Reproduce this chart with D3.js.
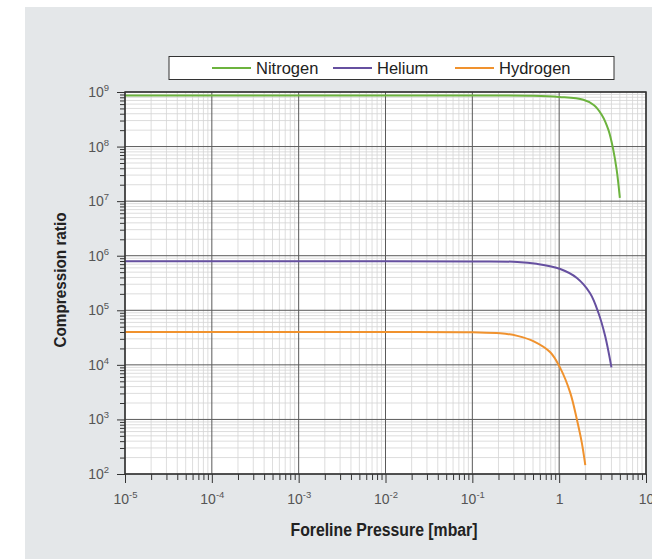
<!DOCTYPE html>
<html>
<head>
<meta charset="utf-8">
<script src="https://cdn.jsdelivr.net/npm/d3@7"></script>
<style>
  body { margin: 0; background: #fff; }
  svg { display: block; font-family: "Liberation Sans", Arial, sans-serif; }
</style>
</head>
<body>
<div id="chart"></div>
<script>
// series names and colours
const seriesNames = ["Nitrogen", "Helium", "Hydrogen"];
const seriesColors = ["#6cb33e", "#6650a0", "#f0922e"];

// foreline pressure [mbar] and compression ratio
const nitrogenP = [1e-5, 0.01, 0.1, 0.5, 1, 1.9, 2.5, 3.1, 3.7, 4.2, 4.6, 5.0];
const nitrogenK = [8.6e8, 8.6e8, 8.6e8, 8.5e8, 8.1e8, 7.2e8, 5.8e8, 3.8e8, 2.0e8, 8.7e7, 3.7e7, 1.15e7];

const heliumP = [1e-5, 0.01, 0.1, 0.33, 0.55, 1.03, 1.6, 2.27, 2.83, 3.38, 4.0];
const heliumK = [7.9e5, 7.9e5, 7.85e5, 7.7e5, 7.1e5, 5.7e5, 3.9e5, 2.05e5, 9e4, 3.4e4, 9e3];

const hydrogenP = [1e-5, 0.01, 0.1, 0.21, 0.33, 0.51, 0.79, 1.03, 1.34, 1.6, 1.82, 2.0];
const hydrogenK = [4.0e4, 4.0e4, 3.95e4, 3.8e4, 3.4e4, 2.7e4, 1.7e4, 8.7e3, 3.1e3, 1.0e3, 380, 145];

// tick labels (mantissa, exponent)
const xTicks = [[1e-5, "10", "-5"], [1e-4, "10", "-4"], [1e-3, "10", "-3"], [1e-2, "10", "-2"], [1e-1, "10", "-1"], [1, "1", ""], [10, "10", ""]];
const yTicks = [[1e2, "10", "2"], [1e3, "10", "3"], [1e4, "10", "4"], [1e5, "10", "5"], [1e6, "10", "6"], [1e7, "10", "7"], [1e8, "10", "8"], [1e9, "10", "9"]];

const width = 652, height = 559;
const margin = { top: 92, right: 6, bottom: 85, left: 125 };

const svg = d3.select("#chart").append("svg")
  .attr("width", width)
  .attr("height", height);

// grey panel
svg.append("rect")
  .attr("x", 25).attr("y", 7)
  .attr("width", width - 25).attr("height", height - 7)
  .attr("fill", "#e4e7e9");

const x = d3.scaleLog()
  .domain([1e-5, 10])
  .range([margin.left, width - margin.right]);

const y = d3.scaleLog()
  .domain([1e2, 1e9])
  .range([height - margin.bottom, margin.top]);

svg.append("rect")
  .attr("x", x.range()[0]).attr("y", y.range()[1])
  .attr("width", x.range()[1] - x.range()[0])
  .attr("height", y.range()[0] - y.range()[1])
  .attr("fill", "#fff");

// minor / major values
function minors(lo, hi) {
  let out = [];
  for (let e = lo; e < hi; e++)
    for (let m = 2; m <= 9; m++) out.push(m * Math.pow(10, e));
  return out;
}
const xMinor = minors(-5, 1), yMinor = minors(2, 9);
const xMajor = xTicks.map(d => d[0]), yMajor = yTicks.map(d => d[0]);

const grid = svg.append("g");
grid.selectAll(".xm").data(xMinor).join("line")
  .attr("x1", d => x(d)).attr("x2", d => x(d))
  .attr("y1", y.range()[0]).attr("y2", y.range()[1])
  .attr("stroke", "#d4d4d4").attr("stroke-width", 0.8);
grid.selectAll(".ym").data(yMinor).join("line")
  .attr("y1", d => y(d)).attr("y2", d => y(d))
  .attr("x1", x.range()[0]).attr("x2", x.range()[1])
  .attr("stroke", "#d4d4d4").attr("stroke-width", 0.8);
grid.selectAll(".xM").data(xMajor).join("line")
  .attr("x1", d => x(d)).attr("x2", d => x(d))
  .attr("y1", y.range()[0]).attr("y2", y.range()[1])
  .attr("stroke", "#5a5a5a").attr("stroke-width", 1);
grid.selectAll(".yM").data(yMajor).join("line")
  .attr("y1", d => y(d)).attr("y2", d => y(d))
  .attr("x1", x.range()[0]).attr("x2", x.range()[1])
  .attr("stroke", "#5a5a5a").attr("stroke-width", 1);

// axes: minor ticks then major ticks with superscript labels
const xAxisY = y.range()[0];
svg.append("g")
  .attr("transform", `translate(0,${xAxisY})`)
  .call(d3.axisBottom(x).tickValues(xMinor).tickSize(6).tickFormat(""))
  .call(g => g.select(".domain").remove())
  .selectAll("line").attr("stroke", "#333");

const xAx = svg.append("g")
  .attr("transform", `translate(0,${xAxisY})`)
  .call(d3.axisBottom(x).tickValues(xMajor).tickSize(9).tickPadding(11).tickFormat(""));
xAx.select(".domain").remove();
xAx.selectAll("line").attr("stroke", "#333");
xAx.selectAll(".tick text")
  .attr("font-size", 14)
  .attr("fill", "#555")
  .attr("font-family", "Liberation Sans, Arial, sans-serif")
  .each(function(d) {
    const t = xTicks.find(k => k[0] === d);
    const el = d3.select(this);
    el.append("tspan").text(t[1]);
    if (t[2]) el.append("tspan").attr("dy", -6).attr("font-size", 9.5).text(t[2]);
  });

svg.append("g")
  .attr("transform", `translate(${x.range()[0]},0)`)
  .call(d3.axisLeft(y).tickValues(yMinor).tickSize(5).tickFormat(""))
  .call(g => g.select(".domain").remove())
  .selectAll("line").attr("stroke", "#333");

const yAx = svg.append("g")
  .attr("transform", `translate(${x.range()[0]},0)`)
  .call(d3.axisLeft(y).tickValues(yMajor).tickSize(8).tickPadding(8).tickFormat(""));
yAx.select(".domain").remove();
yAx.selectAll("line").attr("stroke", "#333");
yAx.selectAll(".tick text")
  .attr("font-size", 14)
  .attr("fill", "#555")
  .attr("font-family", "Liberation Sans, Arial, sans-serif")
  .each(function(d) {
    const t = yTicks.find(k => k[0] === d);
    const el = d3.select(this);
    el.append("tspan").text(t[1]);
    el.append("tspan").attr("dy", -6).attr("font-size", 9.5).text(t[2]);
  });

// series lines
const series = [
  { name: seriesNames[0], color: seriesColors[0], p: nitrogenP, k: nitrogenK },
  { name: seriesNames[1], color: seriesColors[1], p: heliumP, k: heliumK },
  { name: seriesNames[2], color: seriesColors[2], p: hydrogenP, k: hydrogenK }
];

const line = d3.line()
  .x(d => x(d[0]))
  .y(d => y(d[1]))
  .curve(d3.curveCatmullRom.alpha(0.5));

for (let s of series) {
  svg.append("path")
    .datum(s.p.map((p, i) => [p, s.k[i]]))
    .attr("fill", "none")
    .attr("stroke", s.color)
    .attr("stroke-width", 2)
    .attr("d", line);
}

// frame
svg.append("rect")
  .attr("x", x.range()[0]).attr("y", y.range()[1])
  .attr("width", x.range()[1] - x.range()[0])
  .attr("height", y.range()[0] - y.range()[1])
  .attr("fill", "none")
  .attr("stroke", "#333")
  .attr("stroke-width", 1.5);

// legend
const legend = svg.append("g");
legend.append("rect")
  .attr("x", 169).attr("y", 56.5)
  .attr("width", 445).attr("height", 23)
  .attr("fill", "#fff")
  .attr("stroke", "#333")
  .attr("stroke-width", 1);

const legendX = [212, 333, 455];
series.forEach((s, i) => {
  legend.append("line")
    .attr("x1", legendX[i]).attr("x2", legendX[i] + 39)
    .attr("y1", 68).attr("y2", 68)
    .attr("stroke", s.color).attr("stroke-width", 2);
  legend.append("text")
    .attr("x", legendX[i] + 44).attr("y", 74)
    .attr("font-size", 16.5)
    .attr("fill", "#222")
    .text(s.name);
});

// axis titles
svg.append("text")
  .attr("x", 384).attr("y", 536)
  .attr("text-anchor", "middle")
  .attr("font-family", "Liberation Sans Narrow, Arial Narrow, sans-serif")
  .attr("font-weight", "bold")
  .attr("font-size", 18)
  .attr("textLength", 187)
  .attr("lengthAdjust", "spacingAndGlyphs")
  .attr("fill", "#222")
  .text("Foreline Pressure [mbar]");

svg.append("text")
  .attr("transform", "translate(66,280) rotate(-90)")
  .attr("text-anchor", "middle")
  .attr("font-family", "Liberation Sans Narrow, Arial Narrow, sans-serif")
  .attr("font-weight", "bold")
  .attr("font-size", 16.5)
  .attr("textLength", 135)
  .attr("lengthAdjust", "spacingAndGlyphs")
  .attr("fill", "#222")
  .text("Compression ratio");
</script>
</body>
</html>
